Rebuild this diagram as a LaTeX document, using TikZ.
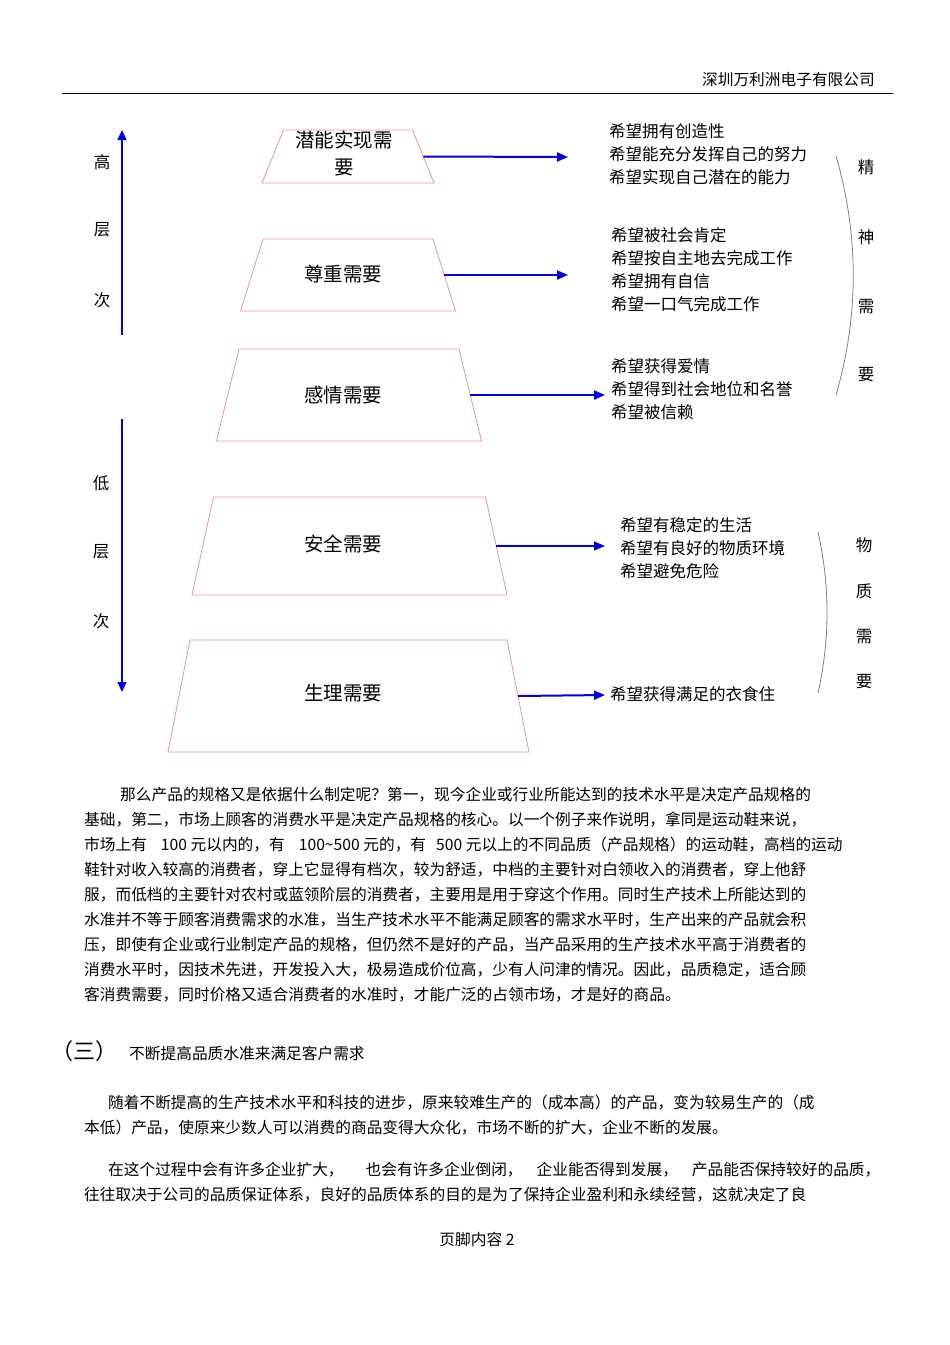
\documentclass[tikz,border=0pt]{standalone}
\usepackage{fontspec}
\setmainfont{Noto Sans CJK SC}
\usetikzlibrary{arrows.meta}

\definecolor{arrblue}{RGB}{0,0,235}
\definecolor{trapred}{RGB}{238,150,150}

\begin{document}
\begin{tikzpicture}[x=1pt, y=-1pt,
      need/.style={draw=trapred, line width=0.8pt, line join=miter},
      ntxt/.style={font=\fontsize{19.5}{27}\selectfont, align=center, inner sep=0pt},
      arr/.style={-{Triangle[length=11pt, width=9pt]}, arrblue, line width=2pt},
      arrthin/.style={-{Triangle[length=11pt, width=9pt]}, arrblue, line width=1.1pt},
      varr/.style={-{Triangle[length=10pt, width=9pt]}, arrblue, line width=1.2pt},
      wish/.style={font=\fontsize{16.5}{23}\selectfont, align=left, anchor=north west, inner sep=0pt},
      side/.style={font=\fontsize{16.5}{20}\selectfont, inner sep=0pt},
      para/.style={font=\fontsize{15.7}{25}\selectfont, align=left, anchor=north west, inner sep=0pt},
      brace/.style={gray, line width=0.8pt}]

    % ---- Page ----
    \fill[white] (0,0) rectangle (950,1345);
    \useasboundingbox (0,0) rectangle (950,1345);

    % ---- Header ----
    \node[font=\fontsize{15.7}{18}\selectfont, anchor=east, inner sep=0pt] (hdr) at (875, 80) {深圳万利洲电子有限公司};
    \coordinate (rulel) at (62, 93);
    \coordinate (ruler) at (893, 93);
    \draw[line width=0.9pt] (rulel) -- (ruler);

    % ---- Layout ----
    \def\tx{343}      % text x inside the steps
    \def\ex{605}      % arrow tips, lower three
    \def\eu{568}      % arrow tips, upper two

    % ---- The five steps (centre x/y, top width, bottom width, height) ----
    \foreach \nm/\cx/\cy/\tw/\bw/\h in {1/348/156.5/129/172/53,
                                       2/348/275/170/215/72,
                                       3/349/395/220/265/92,
                                       4/349.5/546/272/315/98,
                                       5/348.5/696/317/361/112} {
      \draw[need] (\cx-\bw/2, \cy+\h/2) -- (\cx+\bw/2, \cy+\h/2)
                  -- (\cx+\tw/2, \cy-\h/2) -- (\cx-\tw/2, \cy-\h/2) -- cycle;
      \coordinate (s\nm) at (\cx+\tw/4+\bw/4, \cy);
    }

    \node[ntxt] (n1) at (344, 154) {潜能实现需\\要};
    \node[ntxt] (n2) at (\tx, 274) {尊重需要};
    \node[ntxt] (n3) at (\tx, 395) {感情需要};
    \node[ntxt] (n4) at (\tx, 544) {安全需要};
    \node[ntxt] (n5) at (\tx, 693) {生理需要};

    % ---- Arrows to the wishes ----
    \coordinate (e1) at (\eu, 157);
    \coordinate (e2) at (\eu, 275);
    \coordinate (e3) at (\ex, 395);
    \coordinate (e4) at (\ex, 546);
    \coordinate (e5) at (\ex, 695);
    \draw[arr] (s1) -- (e1);
    \draw[arr] (s2) -- (e2);
    \draw[arr] (s3) -- (e3);
    \draw[arrthin] (s4) -- (e4);
    \draw[arr] (s5) -- (e5);

    % ---- Wishes ----
    \node[wish] (w1) at (609, 123) {希望拥有创造性\\希望能充分发挥自己的努力\\希望实现自己潜在的能力};
    \node[wish] (w2) at (611, 227) {希望被社会肯定\\希望按自主地去完成工作\\希望拥有自信\\希望一口气完成工作};
    \node[wish] (w3) at (611, 358) {希望获得爱情\\希望得到社会地位和名誉\\希望被信赖};
    \node[wish] (w4) at (620, 517) {希望有稳定的生活\\希望有良好的物质环境\\希望避免危险};
    \node[wish] (w5) at (610, 686) {希望获得满足的衣食住};

    % ---- Level axis ----
    \coordinate (upfoot) at (122, 335);
    \coordinate (uptip)  at (122, 130);
    \coordinate (dnfoot) at (122, 419);
    \coordinate (dntip)  at (122, 692);
    \draw[varr] (upfoot) -- (uptip);
    \draw[varr] (dnfoot) -- (dntip);
    \foreach \ch/\y in {高/162, 层/230, 次/300}
      \node[side] (hi\y) at (102, \y) {\ch};
    \foreach \ch/\y in {低/483, 层/552, 次/621}
      \node[side] (lo\y) at (101, \y) {\ch};

    % ---- Brackets ----
    \coordinate (b1t) at (836, 156);
    \coordinate (b1b) at (836, 395);
    \draw[brace] (b1t) .. controls (859, 235) and (859, 316) .. (b1b);
    \foreach \ch/\y in {精/167, 神/237, 需/307, 要/375}
      \node[side] (sp\y) at (866, \y) {\ch};
    \coordinate (b2t) at (818, 532);
    \coordinate (b2b) at (818, 693);
    \draw[brace] (b2t) .. controls (830, 585) and (830, 640) .. (b2b);
    \foreach \ch/\y in {物/545, 质/591, 需/637, 要/682}
      \node[side] (ma\y) at (864, \y) {\ch};

    % ---- Body text ----
    \node[para] (p1) at (84, 787) {\hspace*{36pt}那么产品的规格又是依据什么制定呢？第一，现今企业或行业所能达到的技术水平是决定产品规格的\\
      基础，第二，市场上顾客的消费水平是决定产品规格的核心。以一个例子来作说明，拿同是运动鞋来说，\\
      市场上有\hspace{14pt}100 元以内的，有\hspace{14pt}100\textasciitilde500 元的，有\hspace{10pt}500 元以上的不同品质（产品规格）的运动鞋，高档的运动\\
      鞋针对收入较高的消费者，穿上它显得有档次，较为舒适，中档的主要针对白领收入的消费者，穿上他舒\\
      服，而低档的主要针对农村或蓝领阶层的消费者，主要用是用于穿这个作用。同时生产技术上所能达到的\\
      水准并不等于顾客消费需求的水准，当生产技术水平不能满足顾客的需求水平时，生产出来的产品就会积\\
      压，即使有企业或行业制定产品的规格，但仍然不是好的产品，当产品采用的生产技术水平高于消费者的\\
      消费水平时，因技术先进，开发投入大，极易造成价位高，少有人问津的情况。因此，品质稳定，适合顾\\
      客消费需要，同时价格又适合消费者的水准时，才能广泛的占领市场，才是好的商品。};

    \node[font=\fontsize{22}{24}\selectfont, anchor=west, inner sep=0pt] (sec) at (51, 1051) {（三）};
    \node[font=\fontsize{15.7}{18}\selectfont, anchor=west, inner sep=0pt] (sectitle) at (129, 1053) {不断提高品质水准来满足客户需求};

    \node[para] (p2) at (84, 1095) {\hspace*{24pt}随着不断提高的生产技术水平和科技的进步，原来较难生产的（成本高）的产品，变为较易生产的（成\\
      本低）产品，使原来少数人可以消费的商品变得大众化，市场不断的扩大，企业不断的发展。};

    \node[para] (p3) at (84, 1162) {\hspace*{24pt}在这个过程中会有许多企业扩大，\hspace{22pt}也会有许多企业倒闭，\hspace{14pt}企业能否得到发展，\hspace{14pt}产品能否保持较好的品质，\\
      往往取决于公司的品质保证体系，良好的品质体系的目的是为了保持企业盈利和永续经营，这就决定了良};

    % ---- Footer ----
    \node[font=\fontsize{15.7}{18}\selectfont, inner sep=0pt] (ftr) at (477, 1239) {页脚内容 2};

\end{tikzpicture}
\end{document}
